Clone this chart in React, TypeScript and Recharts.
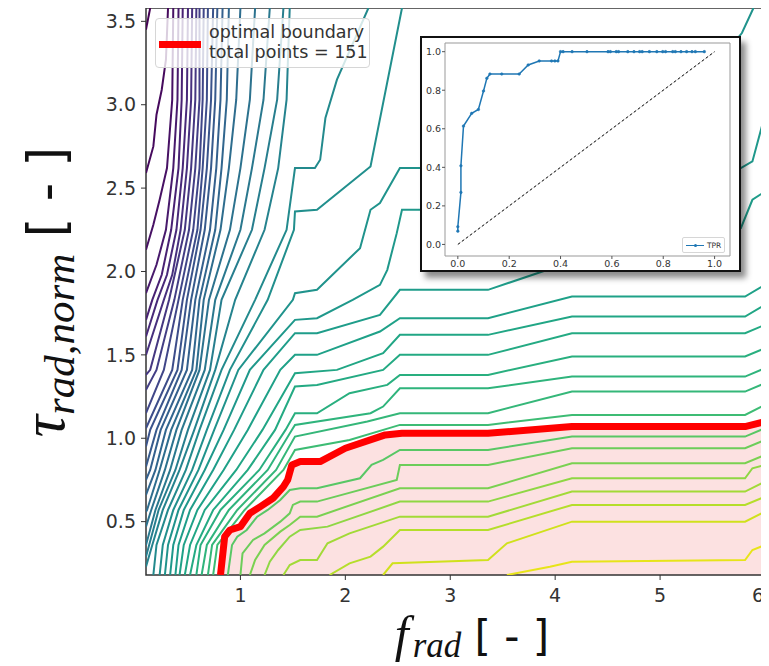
import React from 'react';
import {
  ComposedChart,
  LineChart,
  Line,
  Area,
  XAxis,
  YAxis,
  ReferenceArea,
  Legend,
} from 'recharts';

type Pt = [number, number];

// main plot axes
const xTicks = [1, 2, 3, 4, 5, 6];
const yTicks = [0.5, 1.0, 1.5, 2.0, 2.5, 3.0, 3.5];
const totalPoints = 151;

// contour lines [f_rad, tau], lowest level (top-left) first
const c01: Pt[] = [[0.14, 3.58], [0.10, 3.45]];
const c02: Pt[] = [[0.31, 3.58], [0.29, 3.27], [0.25, 3.09], [0.20, 2.94], [0.17, 2.75], [0.10, 2.59]];
const c03: Pt[] = [[0.36, 3.58], [0.35, 3.03], [0.30, 2.62], [0.23, 2.43], [0.17, 2.28], [0.10, 2.13]];
const c04: Pt[] = [[0.41, 3.58], [0.40, 3.03], [0.36, 2.62], [0.29, 2.25], [0.20, 2.04], [0.10, 1.87]];
const c05: Pt[] = [[0.45, 3.58], [0.44, 3.03], [0.41, 2.62], [0.34, 2.25], [0.25, 1.98], [0.16, 1.83], [0.10, 1.71]];
const c06: Pt[] = [[0.50, 3.58], [0.49, 3.03], [0.45, 2.62], [0.39, 2.25], [0.30, 1.98], [0.21, 1.83], [0.10, 1.61]];
const c07: Pt[] = [[0.54, 3.58], [0.53, 3.03], [0.49, 2.62], [0.43, 2.25], [0.35, 1.98], [0.27, 1.83], [0.10, 1.50]];
const c08: Pt[] = [[0.58, 3.58], [0.57, 3.03], [0.53, 2.62], [0.47, 2.25], [0.32, 1.83], [0.14, 1.41], [0.10, 1.38]];
const c09: Pt[] = [[0.61, 3.58], [0.61, 3.03], [0.57, 2.62], [0.51, 2.25], [0.37, 1.83], [0.20, 1.41], [0.10, 1.29]];
const c10: Pt[] = [[0.65, 3.58], [0.64, 3.03], [0.61, 2.62], [0.55, 2.25], [0.41, 1.83], [0.27, 1.41], [0.10, 1.15]];
const c11: Pt[] = [[0.69, 3.58], [0.68, 3.03], [0.64, 2.62], [0.59, 2.25], [0.45, 1.83], [0.35, 1.41], [0.10, 1.06]];
const c12: Pt[] = [[0.74, 3.58], [0.72, 3.03], [0.68, 2.62], [0.62, 2.25], [0.49, 1.83], [0.40, 1.41], [0.14, 1.05], [0.10, 0.95]];
const c13: Pt[] = [[0.78, 3.58], [0.76, 3.03], [0.72, 2.62], [0.66, 2.25], [0.53, 1.83], [0.44, 1.41], [0.20, 1.05], [0.10, 0.83]];
const c14: Pt[] = [[0.83, 3.58], [0.81, 3.03], [0.77, 2.62], [0.71, 2.25], [0.57, 1.83], [0.49, 1.41], [0.24, 1.05], [0.14, 0.81], [0.10, 0.75]];
const c15: Pt[] = [[0.89, 3.58], [0.87, 3.03], [0.82, 2.62], [0.76, 2.25], [0.61, 1.83], [0.54, 1.41], [0.29, 1.05], [0.19, 0.81], [0.10, 0.66]];
const c16: Pt[] = [[1.00, 3.58], [0.96, 3.03], [0.89, 2.62], [0.81, 2.25], [0.65, 1.83], [0.58, 1.41], [0.34, 1.05], [0.23, 0.81], [0.11, 0.57], [0.10, 0.56]];
const c17: Pt[] = [[1.14, 3.58], [1.09, 3.03], [1.00, 2.62], [0.90, 2.25], [0.70, 1.83], [0.61, 1.41], [0.39, 1.05], [0.28, 0.81], [0.15, 0.57], [0.10, 0.47]];
const c18: Pt[] = [[1.28, 3.58], [1.22, 3.03], [1.11, 2.62], [1.00, 2.25], [0.76, 1.83], [0.66, 1.41], [0.44, 1.05], [0.33, 0.81], [0.19, 0.57], [0.10, 0.36]];
const c19: Pt[] = [[1.41, 3.58], [1.35, 3.03], [1.23, 2.62], [1.11, 2.25], [0.82, 1.83], [0.71, 1.41], [0.50, 1.05], [0.38, 0.81], [0.22, 0.57], [0.13, 0.36], [0.10, 0.29]];
const c20: Pt[] = [[1.47, 3.58], [1.44, 3.03], [1.36, 2.62], [1.23, 2.25], [0.95, 1.83], [0.76, 1.41], [0.56, 1.05], [0.42, 0.81], [0.26, 0.57], [0.16, 0.36], [0.10, 0.23]];
const c21: Pt[] = [[2.22, 3.58], [1.92, 3.15], [1.81, 2.92], [1.76, 2.67], [1.71, 2.62], [1.52, 2.62], [1.44, 2.25], [1.14, 1.83], [0.82, 1.41], [0.61, 1.05], [0.48, 0.81], [0.31, 0.57], [0.20, 0.36], [0.17, 0.18]];
const c22: Pt[] = [[2.54, 3.58], [2.24, 2.63], [1.73, 2.37], [1.52, 2.36], [1.51, 2.25], [1.26, 1.83], [0.90, 1.41], [0.68, 1.05], [0.54, 0.81], [0.36, 0.57], [0.26, 0.36], [0.23, 0.18]];
const c23: Pt[] = [[5.89, 3.58], [5.78, 3.43], [5.57, 3.27], [4.16, 2.73], [3.36, 2.62], [2.52, 2.62], [2.33, 2.41], [2.24, 2.37], [2.14, 2.14], [1.73, 1.89], [1.52, 1.87], [1.50, 1.83], [0.98, 1.41], [0.75, 1.05], [0.60, 0.81], [0.41, 0.57], [0.31, 0.36], [0.28, 0.18]];
const c24: Pt[] = [[6.0, 2.94], [5.88, 2.66], [5.77, 2.62], [4.16, 2.46], [3.36, 2.37], [2.54, 2.37], [2.49, 2.23], [2.40, 2.01], [2.33, 1.92], [2.07, 1.83], [1.73, 1.72], [1.52, 1.71], [1.09, 1.41], [0.84, 1.05], [0.66, 0.81], [0.46, 0.57], [0.36, 0.36], [0.33, 0.18]];
const c25: Pt[] = [[6.0, 2.48], [5.88, 2.43], [5.77, 2.26], [4.16, 2.06], [3.36, 1.89], [2.52, 1.89], [2.33, 1.74], [1.73, 1.63], [1.52, 1.63], [1.22, 1.41], [0.94, 1.05], [0.74, 0.81], [0.52, 0.57], [0.41, 0.36], [0.38, 0.18]];
const c26: Pt[] = [[6.0, 1.92], [5.81, 1.85], [4.16, 1.85], [3.36, 1.72], [2.52, 1.72], [2.33, 1.64], [1.73, 1.50], [1.52, 1.50], [1.38, 1.41], [1.07, 1.05], [0.84, 0.81], [0.59, 0.57], [0.46, 0.36], [0.42, 0.18]];
const c27: Pt[] = [[6.0, 1.80], [5.81, 1.73], [4.16, 1.73], [3.36, 1.62], [2.52, 1.62], [2.36, 1.51], [1.92, 1.41], [1.52, 1.39], [1.21, 1.05], [0.96, 0.81], [0.66, 0.57], [0.52, 0.36], [0.47, 0.18]];
const c28: Pt[] = [[6.0, 1.68], [5.81, 1.63], [4.16, 1.63], [3.36, 1.50], [2.52, 1.50], [2.36, 1.41], [1.73, 1.32], [1.52, 1.31], [1.33, 1.05], [1.07, 0.81], [0.74, 0.57], [0.58, 0.36], [0.52, 0.18]];
const c29: Pt[] = [[6.0, 1.54], [5.81, 1.49], [4.16, 1.49], [3.36, 1.38], [2.52, 1.38], [2.40, 1.32], [2.04, 1.27], [1.73, 1.15], [1.52, 1.15], [1.43, 1.05], [1.18, 0.81], [0.81, 0.57], [0.62, 0.36], [0.58, 0.18]];
const c30: Pt[] = [[6.0, 1.42], [5.81, 1.37], [4.16, 1.37], [3.36, 1.30], [2.52, 1.30], [2.36, 1.19], [2.24, 1.15], [1.52, 1.08], [1.49, 1.05], [1.26, 0.81], [0.89, 0.57], [0.68, 0.36], [0.63, 0.18]];
const c31: Pt[] = [[6.0, 1.33], [5.81, 1.28], [4.16, 1.28], [3.36, 1.15], [2.52, 1.15], [2.21, 1.10], [1.52, 1.01], [1.34, 0.81], [0.97, 0.57], [0.73, 0.36], [0.69, 0.18]];
const c32: Pt[] = [[6.0, 1.20], [5.81, 1.14], [4.16, 1.14], [3.36, 1.08], [2.52, 1.08], [2.04, 0.99], [1.52, 0.93], [1.41, 0.81], [1.04, 0.57], [0.78, 0.36], [0.74, 0.18]];
// below the optimal boundary
const c33: Pt[] = [[0.88, 0.18], [0.92, 0.36], [0.97, 0.41], [1.06, 0.45], [1.16, 0.53], [1.26, 0.57], [1.38, 0.63], [1.47, 0.69], [1.57, 0.70], [1.73, 0.70], [2.14, 0.76], [2.25, 0.84], [2.36, 0.87], [2.52, 0.93], [3.36, 0.93], [4.16, 1.01], [5.81, 1.01], [6.0, 1.06]];
const c34: Pt[] = [[1.00, 0.18], [1.02, 0.31], [1.12, 0.39], [1.23, 0.43], [1.38, 0.50], [1.47, 0.55], [1.50, 0.60], [1.57, 0.62], [1.73, 0.62], [2.49, 0.75], [2.52, 0.84], [3.36, 0.84], [4.16, 0.94], [5.81, 0.94], [6.0, 0.99]];
const c35: Pt[] = [[1.09, 0.18], [1.14, 0.27], [1.23, 0.36], [1.38, 0.44], [1.47, 0.48], [1.57, 0.53], [1.73, 0.53], [2.52, 0.70], [3.36, 0.70], [4.16, 0.85], [5.81, 0.85], [6.0, 0.90]];
const c36: Pt[] = [[1.23, 0.18], [1.28, 0.26], [1.36, 0.33], [1.47, 0.41], [1.57, 0.45], [1.83, 0.47], [2.52, 0.62], [3.36, 0.62], [4.16, 0.76], [5.81, 0.76], [5.88, 0.82], [6.0, 0.84]];
const c37: Pt[] = [[1.41, 0.18], [1.47, 0.24], [1.57, 0.27], [1.73, 0.27], [1.83, 0.37], [2.04, 0.43], [2.52, 0.53], [3.36, 0.53], [4.16, 0.68], [5.81, 0.68], [6.0, 0.74]];
const c38: Pt[] = [[1.85, 0.18], [2.04, 0.25], [2.24, 0.29], [2.36, 0.35], [2.52, 0.45], [3.36, 0.45], [4.16, 0.60], [5.81, 0.60], [6.0, 0.65]];
const c39: Pt[] = [[2.36, 0.18], [2.45, 0.25], [3.36, 0.27], [3.54, 0.37], [4.16, 0.50], [5.81, 0.50], [6.0, 0.56]];
const c40: Pt[] = [[3.54, 0.18], [3.95, 0.23], [4.16, 0.26], [5.81, 0.27], [5.88, 0.33], [6.0, 0.36]];

// optimal boundary (red) – the shaded region lies below it
const boundary: Pt[] = [[0.81, 0.18], [0.85, 0.41], [0.90, 0.45], [1.00, 0.47], [1.09, 0.55], [1.19, 0.59], [1.31, 0.64], [1.41, 0.71], [1.45, 0.75], [1.49, 0.84], [1.57, 0.86], [1.76, 0.86], [2.00, 0.94], [2.38, 1.02], [2.54, 1.03], [3.36, 1.03], [4.16, 1.07], [5.81, 1.07], [6.0, 1.10]];

const contours = [c01, c02, c03, c04, c05, c06, c07, c08, c09, c10, c11, c12, c13, c14, c15, c16, c17, c18, c19, c20,
  c21, c22, c23, c24, c25, c26, c27, c28, c29, c30, c31, c32, c33, c34, c35, c36, c37, c38, c39, c40];

// viridis-like level colours
const levelColors = [
  '#440154', '#460a5d', '#471164', '#481a6c', '#482173', '#482979', '#47307e', '#453781', '#433e85', '#404688',
  '#3d4d8a', '#3a538b', '#375a8c', '#34608d', '#31668e', '#2e6d8e', '#2c728e', '#2a788e', '#277e8e', '#25838e',
  '#238a8d', '#218f8d', '#20938c', '#1f988b', '#1f9d8a', '#1fa188', '#21a685', '#24aa83', '#29af7f', '#2fb47c',
  '#35b779', '#3dbc74', '#58c765', '#6ccd5a', '#7ad151', '#8fd744', '#a2da37', '#b5de2b', '#d0e11c', '#e7e419',
];

// inset ROC curve
const rocFpr = [0, 0, 0.012, 0.012, 0.022, 0.054, 0.08, 0.10, 0.113, 0.125, 0.171, 0.239, 0.274, 0.317, 0.365, 0.378, 0.39,
  0.40, 0.41, 0.445, 0.503, 0.585, 0.594, 0.617, 0.626, 0.662, 0.686, 0.708, 0.718, 0.746, 0.775, 0.798, 0.809, 0.837,
  0.847, 0.869, 0.891, 0.912, 0.925, 0.96];
const rocTpr = [0.069, 0.092, 0.27, 0.408, 0.614, 0.68, 0.70, 0.796, 0.862, 0.884, 0.884, 0.884, 0.931, 0.952, 0.952, 0.952, 0.952,
  1, 1, 1, 1, 1, 1, 1, 1, 1, 1, 1, 1, 1, 1, 1, 1, 1, 1, 1, 1, 1, 1, 1];
const rocTicks = [0, 0.2, 0.4, 0.6, 0.8, 1.0];
const chance: Pt[] = [[0, 0], [1, 1]];

const toXY = (pts: Pt[]) => pts.map(([x, y]) => ({ x, y }));

const boundaryData = toXY(boundary);
const rocData = rocFpr.map((x, i) => ({ x, y: rocTpr[i] }));

const sans = 'DejaVu Sans';
const serif = 'Liberation Serif';

const renderXLabel = () => (
  <text x={464} y={643} textAnchor="middle" fill="#111">
    <tspan fontFamily={serif} fontStyle="italic" fontSize={50}>f</tspan>
    <tspan fontFamily={serif} fontStyle="italic" fontSize={35} dy={6} dx={4}>rad</tspan>
    <tspan fontFamily={sans} fontSize={42} dy={-6}> [ - ]</tspan>
  </text>
);

const renderYLabel = () => (
  <text transform="translate(56,284) rotate(-90)" textAnchor="middle" fill="#111">
    <tspan fontFamily={serif} fontStyle="italic" fontSize={62}>τ</tspan>
    <tspan fontFamily={serif} fontStyle="italic" fontSize={43} dy={10}>rad,norm</tspan>
    <tspan fontFamily={sans} fontSize={51} dy={-10}> [ - ]</tspan>
  </text>
);

// last x tick sits on the figure edge, nudge it in
const renderXTick = (props: any) => {
  const { x, y, payload } = props;
  const nudge = payload.value === 6 ? -7 : 0;
  return (
    <text x={x + nudge} y={y} dy="0.75em" textAnchor="middle" fontSize={19} fill="#333" fontFamily={sans}>
      {payload.value}
    </text>
  );
};

const renderMainLegend = () => (
  <div
    style={{
      position: 'relative',
      width: 215,
      height: 50,
      boxSizing: 'border-box',
      border: '1px solid #d6d6d6',
      borderRadius: 4,
      background: 'rgba(255,255,255,0.8)',
      fontFamily: sans,
      fontSize: 17.5,
      color: '#333',
    }}
  >
    <span style={{ position: 'absolute', left: 3, top: 22, width: 42, height: 7, background: '#ff0000' }} />
    <div style={{ position: 'absolute', left: 53, top: 3, lineHeight: '20px', whiteSpace: 'nowrap' }}>
      optimal boundary
      <br />
      total points = {totalPoints}
    </div>
  </div>
);

const renderRocLegend = () => (
  <div
    style={{
      position: 'relative',
      width: 43,
      height: 16,
      boxSizing: 'border-box',
      border: '1px solid #d6d6d6',
      borderRadius: 2,
      background: '#fff',
      fontFamily: sans,
      fontSize: 7.5,
      color: '#333',
    }}
  >
    <span style={{ position: 'absolute', left: 3, top: 6.5, width: 18, height: 1.5, background: '#1f77b4' }} />
    <span style={{ position: 'absolute', left: 10.5, top: 5.5, width: 3, height: 3, borderRadius: 2, background: '#1f77b4' }} />
    <span style={{ position: 'absolute', left: 24, top: 2.5, lineHeight: '9px' }}>TPR</span>
  </div>
);

export default function App(): React.ReactElement {
  return (
    <div style={{ position: 'relative', width: 761, height: 658, fontFamily: sans }}>
      <ComposedChart width={761} height={658} margin={{ top: 0, right: 4, bottom: 0, left: 0 }}>
        <XAxis
          type="number"
          dataKey="x"
          domain={[0.1, 6]}
          allowDataOverflow
          ticks={xTicks}
          interval={0}
          height={91}
          tickSize={5}
          tickMargin={8}
          axisLine={false}
          tickLine={{ stroke: '#333' }}
          tick={renderXTick}
          label={renderXLabel}
        />
        <YAxis
          type="number"
          domain={[0.18, 3.58]}
          allowDataOverflow
          ticks={yTicks}
          interval={0}
          width={138}
          tickSize={5}
          tickMargin={5}
          axisLine={false}
          tickLine={{ stroke: '#333' }}
          tick={{ fontSize: 19, fill: '#333', fontFamily: sans }}
          tickFormatter={(v: number) => v.toFixed(1)}
          label={renderYLabel}
        />
        <Area
          data={boundaryData}
          dataKey="y"
          type="linear"
          stroke="none"
          fill="#fce1e1"
          fillOpacity={1}
          isAnimationActive={false}
          legendType="none"
        />
        {contours.map((pts, i) => (
          <Line
            key={`level-${i}`}
            data={toXY(pts)}
            dataKey="y"
            type="linear"
            stroke={levelColors[i]}
            strokeWidth={2}
            dot={false}
            activeDot={false}
            isAnimationActive={false}
            legendType="none"
          />
        ))}
        <Line
          data={boundaryData}
          dataKey="y"
          type="linear"
          stroke="#ff0000"
          strokeWidth={7}
          strokeLinejoin="round"
          dot={false}
          activeDot={false}
          isAnimationActive={false}
          legendType="none"
        />
        <ReferenceArea x1={0.1} x2={6} y1={0.18} y2={3.58} fill="none" stroke="#333" strokeWidth={1.5} />
        <Legend
          layout="horizontal"
          verticalAlign="middle"
          align="center"
          content={renderMainLegend}
          wrapperStyle={{ left: 147, top: 10, width: 215, height: 50 }}
        />
      </ComposedChart>

      <div
        style={{
          position: 'absolute',
          left: 412,
          top: 28,
          width: 321,
          height: 236,
          boxSizing: 'border-box',
          border: '2px solid #111',
          background: '#fff',
          boxShadow: '5px 6px 6px rgba(0,0,0,0.45)',
        }}
      >
        <LineChart width={317} height={232} margin={{ top: 5, right: 9, bottom: 0, left: 0 }}>
          <XAxis
            type="number"
            dataKey="x"
            domain={[-0.05, 1.06]}
            allowDataOverflow
            ticks={rocTicks}
            interval={0}
            height={14}
            tickSize={3}
            tickMargin={1}
            axisLine={false}
            tickLine={{ stroke: '#555' }}
            tick={{ fontSize: 9.5, fill: '#333', fontFamily: sans }}
            tickFormatter={(v: number) => v.toFixed(1)}
          />
          <YAxis
            type="number"
            domain={[-0.06, 1.045]}
            allowDataOverflow
            ticks={rocTicks}
            interval={0}
            width={23}
            tickSize={3}
            tickMargin={1}
            axisLine={false}
            tickLine={{ stroke: '#555' }}
            tick={{ fontSize: 9.5, fill: '#333', fontFamily: sans }}
            tickFormatter={(v: number) => v.toFixed(1)}
          />
          <ReferenceArea x1={-0.05} x2={1.06} y1={-0.06} y2={1.045} fill="none" stroke="#999" strokeWidth={1} />
          <Line
            data={toXY(chance)}
            dataKey="y"
            type="linear"
            stroke="#000"
            strokeWidth={1}
            strokeDasharray="3 2"
            dot={false}
            activeDot={false}
            isAnimationActive={false}
            legendType="none"
          />
          <Line
            data={rocData}
            dataKey="y"
            type="linear"
            stroke="#1f77b4"
            strokeWidth={1.5}
            dot={{ r: 1.3, fill: '#1f77b4', stroke: '#1f77b4', strokeWidth: 0.5 }}
            activeDot={false}
            isAnimationActive={false}
            legendType="none"
          />
          <Legend
            layout="horizontal"
            verticalAlign="middle"
            align="center"
            content={renderRocLegend}
            wrapperStyle={{ left: 260, top: 199, width: 43, height: 16 }}
          />
        </LineChart>
      </div>
    </div>
  );
}
